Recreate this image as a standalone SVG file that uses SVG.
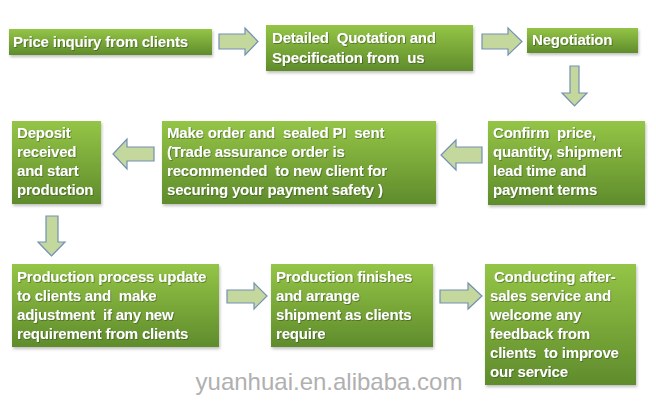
<svg xmlns="http://www.w3.org/2000/svg" width="656" height="404" viewBox="0 0 656 404">
<defs>
<linearGradient id="g" x1="0" y1="0" x2="0" y2="1">
<stop offset="0" stop-color="#94c546"/>
<stop offset="1" stop-color="#5f8c2c"/>
</linearGradient>
<filter id="sh" x="-5%" y="-5%" width="115%" height="120%">
<feDropShadow dx="1" dy="2" stdDeviation="1.5" flood-color="#000" flood-opacity="0.25"/>
</filter>
<filter id="ts" x="-5%" y="-20%" width="110%" height="140%">
<feDropShadow dx="0.8" dy="0.8" stdDeviation="0.4" flood-color="#2a4010" flood-opacity="0.6"/>
</filter>
</defs>
<style>
.box{fill:url(#g);filter:url(#sh);}
.t{font-family:"Liberation Sans",Arial,sans-serif;font-weight:bold;font-size:15px;fill:#fff;filter:url(#ts);letter-spacing:-0.2px;white-space:pre;}
.arr{fill:#c4d79c;stroke:#7290b4;stroke-width:1.2;}
.wm{font-family:"Liberation Sans",Arial,sans-serif;font-size:24px;fill:#b0b0b0;}
</style>
<rect width="656" height="404" fill="#fff"/>
<g id="connectors">
<polygon class="arr" points="219,34 245,34 245,28 258,41.5 245,55 245,49 219,49"/>
<polygon class="arr" points="482,34 508,34 508,28 522,41.5 508,55 508,49 482,49"/>
<polygon class="arr" points="570,66 579,66 579,93 587,93 574.5,106 562,93 570,93"/>
<polygon class="arr" points="482,147 456,147 456,140 441,155 456,170 456,163 482,163"/>
<polygon class="arr" points="154,147 127,147 127,139 113,154 127,169 127,161 154,161"/>
<polygon class="arr" points="46,216 58,216 58,242 65,242 51.5,256 38,242 46,242"/>
<polygon class="arr" points="227,290 254,290 254,283 267,296 254,309 254,303 227,303"/>
<polygon class="arr" points="440,290 468,290 468,283 482,296 468,309 468,303 440,303"/>
</g>
<g id="n1"><rect class="box" x="9" y="29" width="203" height="26"/>
<text class="t" x="13" y="47">Price inquiry from clients</text></g>
<g id="n2"><rect class="box" x="266" y="25" width="207" height="46"/>
<text class="t" x="272" y="43">Detailed  Quotation and</text>
<text class="t" x="272" y="63">Specification from  us</text></g>
<g id="n3"><rect class="box" x="527" y="28" width="111" height="25"/>
<text class="t" x="532" y="45">Negotiation</text></g>
<g id="n4"><rect class="box" x="488" y="121" width="157" height="84"/>
<text class="t" x="493" y="138">Confirm  price,</text>
<text class="t" x="493" y="157">quantity, shipment</text>
<text class="t" x="493" y="176">lead time and</text>
<text class="t" x="493" y="195">payment terms</text></g>
<g id="n5"><rect class="box" x="162" y="121" width="274" height="83"/>
<text class="t" x="167" y="138">Make order and  sealed PI  sent</text>
<text class="t" x="167" y="157">(Trade assurance order is</text>
<text class="t" x="167" y="176">recommended  to new client for</text>
<text class="t" x="167" y="195">securing your payment safety )</text></g>
<g id="n6"><rect class="box" x="12" y="121" width="89" height="83"/>
<text class="t" x="17" y="138">Deposit</text>
<text class="t" x="17" y="157">received</text>
<text class="t" x="17" y="176">and start</text>
<text class="t" x="17" y="195">production</text></g>
<g id="n7"><rect class="box" x="12" y="264" width="207" height="83"/>
<text class="t" x="17" y="282">Production process update</text>
<text class="t" x="17" y="301">to clients and  make</text>
<text class="t" x="17" y="320">adjustment  if any new</text>
<text class="t" x="17" y="339">requirement from clients</text></g>
<g id="n8"><rect class="box" x="271" y="264" width="162" height="83"/>
<text class="t" x="276" y="282">Production finishes</text>
<text class="t" x="276" y="301">and arrange</text>
<text class="t" x="276" y="320">shipment as clients</text>
<text class="t" x="276" y="339">require</text></g>
<g id="n9"><rect class="box" x="485" y="264" width="151" height="121"/>
<text class="t" x="490" y="282"> Conducting after-</text>
<text class="t" x="490" y="301">sales service and</text>
<text class="t" x="490" y="320">welcome any</text>
<text class="t" x="490" y="339">feedback from</text>
<text class="t" x="490" y="358">clients  to improve</text>
<text class="t" x="490" y="377">our service</text></g>
<text class="wm" x="329" y="390" text-anchor="middle">yuanhuai.en.alibaba.com</text>
</svg>
